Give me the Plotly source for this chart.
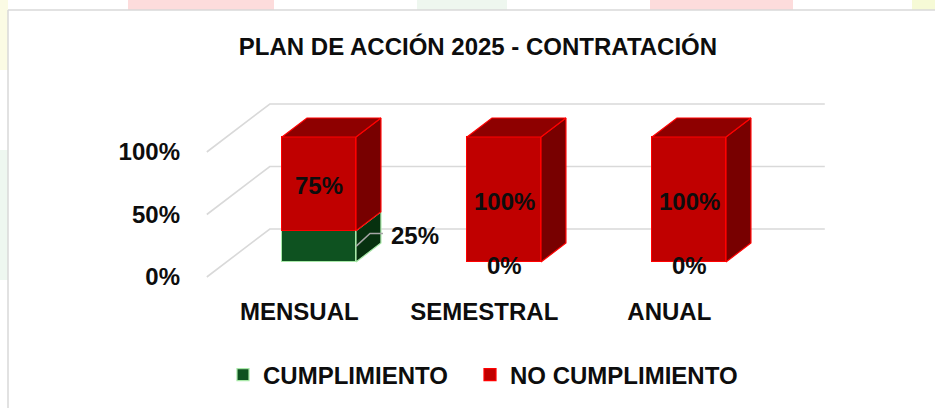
import plotly.graph_objects as go

# ---------------- data ----------------
categories = ["MENSUAL", "SEMESTRAL", "ANUAL"]
series_names = ["CUMPLIMIENTO", "NO CUMPLIMIENTO"]
cumplimiento = [25, 0, 0]
no_cumplimiento = [75, 100, 100]
y_ticks = [0, 50, 100]
y_tick_labels = ["0%", "50%", "100%"]
title_text = "PLAN DE ACCIÓN 2025 - CONTRATACIÓN"

# ---------------- styling / geometry ----------------
W, H = 935, 408
FONT = "Liberation Sans, Arial, sans-serif"
TXT = "#0D0D0D"
FS = 24

front_cols = ["#0E5220", "#C00000"]
top_cols = ["#0A3E16", "#8E0000"]
side_cols = ["#07310F", "#780000"]
edge_cols = ["#A8E8A8", "#FF0000"]
legend_x_px = [223, 470]   # left edge of each legend entry (container px)

# pixel layout of plot area
L, R, T, B = 185, 830, 95, 290
CAT_PX, ORG_X = 185.0, 319.0      # px per category, px of category 0 (front face centre)
PCT_PX, ORG_Y = 1.25, 262.0       # px per percent, px of value 0 on bar front plane
BAR_W = 0.4
DX = 63.0 / CAT_PX                # full floor depth (category units)
DY = 48.0 / PCT_PX                # full floor depth (percent units)
ZF, ZB = 15.0 / 48.0, 34.0 / 48.0  # bar front / back depth fractions

xr = [(L - ORG_X) / CAT_PX, (R - ORG_X) / CAT_PX]
yr = [(ORG_Y - B) / PCT_PX, (ORG_Y - T) / PCT_PX]


def proj(i, v, z):
    return i + (z - ZF) * DX, v + (z - ZF) * DY


def px_x(px):  # container pixel -> paper x
    return (px - L) / (R - L)


def px_y(py):  # container pixel -> paper y
    return (B - py) / (B - T)


n = len(categories)
idx = list(range(n))
fig = go.Figure()

# back wall / side wall gridlines
shapes = []
for t in y_ticks:
    p0 = proj(-0.5, t, 0.0)
    p1 = proj(-0.5, t, 1.0)
    p2 = proj(n - 0.5, t, 1.0)
    path = f"M{p0[0]},{p0[1]} L{p1[0]},{p1[1]} L{p2[0]},{p2[1]}"
    shapes.append(dict(type="path", path=path, xref="x", yref="y",
                       line=dict(color="#D9D9D9", width=1.6), layer="below"))

# front faces (real bars)
series = [cumplimiento, no_cumplimiento]
legend_ids = ["legend", "legend2"]
for s, vals in enumerate(series):
    fig.add_trace(go.Bar(
        x=idx, y=vals, width=BAR_W, name=series_names[s], legend=legend_ids[s],
        marker=dict(color=front_cols[s], line=dict(color=edge_cols[s], width=1.2)),
        zorder=1, hoverinfo="skip",
    ))

# 3D side & top faces
for i in idx:
    base = 0
    stack_vals = [series[s][i] for s in range(len(series))]
    top_series = max([s for s in range(len(series)) if stack_vals[s] > 0], default=None)
    for s in range(len(series)):
        v = stack_vals[s]
        if v <= 0:
            continue
        xr_ = i + BAR_W / 2
        xl_ = i - BAR_W / 2
        a = proj(xr_, base, ZF)
        b = proj(xr_, base, ZB)
        c = proj(xr_, base + v, ZB)
        d = proj(xr_, base + v, ZF)
        fig.add_trace(go.Scatter(
            x=[a[0], b[0], c[0], d[0], a[0]], y=[a[1], b[1], c[1], d[1], a[1]],
            mode="lines", fill="toself", fillcolor=side_cols[s],
            line=dict(color=edge_cols[s], width=1.2), showlegend=False,
            hoverinfo="skip", zorder=2))
        if s == top_series:
            e = proj(xl_, base + v, ZF)
            f = proj(xl_, base + v, ZB)
            fig.add_trace(go.Scatter(
                x=[e[0], f[0], c[0], d[0], e[0]], y=[e[1], f[1], c[1], d[1], e[1]],
                mode="lines", fill="toself", fillcolor=top_cols[s],
                line=dict(color=edge_cols[s], width=1.2), showlegend=False,
                hoverinfo="skip", zorder=2))
        base += v

# data labels
annotations = []
lab_font = dict(family=FONT, size=FS, color=TXT, weight="bold")
for i in idx:
    base = 0
    for s in range(len(series)):
        v = series[s][i]
        if v == 0:
            annotations.append(dict(x=i, y=base, xref="x", yref="y", text=f"{v}%",
                                    showarrow=False, font=lab_font, yanchor="middle",
                                    yshift=-3))
        elif v < 30:
            # callout with leader line to the right of the bar
            x0 = i + BAR_W / 2
            y0 = base + v / 2
            x1 = x0 + 14 / CAT_PX
            y1 = y0 + 13 / PCT_PX
            x2 = x0 + 27 / CAT_PX
            fig.add_trace(go.Scatter(x=[x0, x1, x2], y=[y0, y1, y1], mode="lines",
                                     line=dict(color="#A6A6A6", width=1.5),
                                     showlegend=False, hoverinfo="skip", zorder=3))
            annotations.append(dict(x=x2 + 6 / CAT_PX, y=y1 - 2 / PCT_PX, xref="x", yref="y",
                                    text=f"{v}%", showarrow=False, font=lab_font,
                                    xanchor="left", yanchor="middle"))
        else:
            annotations.append(dict(x=i, y=base + v / 2, xref="x", yref="y", text=f"{v}%",
                                    showarrow=False, font=lab_font, yanchor="middle",
                                    yshift=-2))
        base += v

# background decoration (watermark strips outside the chart border)
deco_top = [(128, 274, "#FDDCDC"), (417, 507, "#EEF7EF"), (650, 793, "#FDDCDC"), (912, 935, "#F6FAD6")]
for x0, x1, col in deco_top:
    shapes.append(dict(type="rect", xref="paper", yref="paper",
                       x0=px_x(x0), x1=px_x(x1), y0=px_y(10), y1=px_y(0),
                       fillcolor=col, line=dict(width=0), layer="below"))
deco_left = [(0, 70, "#FBFBE4"), (150, 280, "#EEF7F0")]
for y0, y1, col in deco_left:
    shapes.append(dict(type="rect", xref="paper", yref="paper",
                       x0=px_x(0), x1=px_x(8), y0=px_y(y1), y1=px_y(y0),
                       fillcolor=col, line=dict(width=0), layer="below"))
# chart border (top and left)
shapes.append(dict(type="line", xref="paper", yref="paper",
                   x0=px_x(8), x1=px_x(W), y0=px_y(10), y1=px_y(10),
                   line=dict(color="#D9D9D9", width=1.5), layer="below"))
shapes.append(dict(type="line", xref="paper", yref="paper",
                   x0=px_x(8), x1=px_x(8), y0=px_y(10), y1=px_y(H),
                   line=dict(color="#D9D9D9", width=1.5), layer="below"))

legend_common = dict(orientation="h", xref="container", yref="container",
                     xanchor="left", y=1 - 375 / H, yanchor="middle",
                     font=dict(family=FONT, size=FS, color=TXT, weight="bold"),
                     bgcolor="rgba(0,0,0,0)")

fig.update_layout(
    width=W, height=H,
    margin=dict(l=L, r=W - R, t=T, b=H - B, pad=0),
    paper_bgcolor="white", plot_bgcolor="rgba(0,0,0,0)",
    barmode="stack", bargap=0,
    title=dict(text=title_text, x=478 / W, xref="container", xanchor="center",
               y=1 - 47 / H, yref="container", yanchor="middle",
               font=dict(family=FONT, size=FS, color=TXT, weight="bold")),
    xaxis=dict(range=xr, showgrid=False, zeroline=False, showline=False, ticks="",
               tickmode="array",
               tickvals=[proj(i, 0, 0.0)[0] for i in idx], ticktext=categories,
               tickfont=dict(family=FONT, size=FS, color=TXT, weight="bold"),
               ticklabelstandoff=5, fixedrange=True),
    yaxis=dict(range=yr, showgrid=False, zeroline=False, showline=False, ticks="",
               tickmode="array",
               tickvals=[proj(0, t, 0.0)[1] for t in y_ticks], ticktext=y_tick_labels,
               tickfont=dict(family=FONT, size=FS, color=TXT, weight="bold"),
               ticklabelstandoff=4, fixedrange=True),
    legend=dict(x=legend_x_px[0] / W, **legend_common),
    legend2=dict(x=legend_x_px[1] / W, **legend_common),
    shapes=shapes,
    annotations=annotations,
)

fig.write_html("out.html", config={"displayModeBar": False},
               post_script="document.body.style.margin='0px';")
